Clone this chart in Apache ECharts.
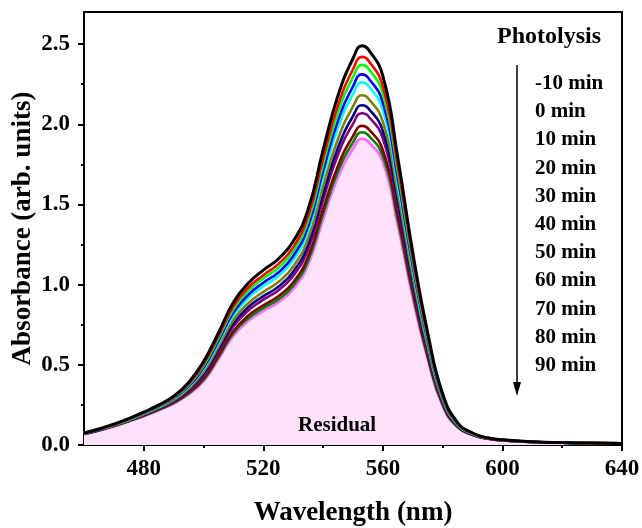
<!DOCTYPE html>
<html>
<head>
<meta charset="utf-8">
<script src="https://cdn.jsdelivr.net/npm/echarts@6/dist/echarts.min.js"></script>
<style>
  html, body { margin: 0; padding: 0; background: #fff; }
  #chart { width: 642px; height: 528px; }
</style>
</head>
<body>
<div id="chart"></div>
<script>
// wavelength grid (nm)
var wavelengths = [460, 465, 470, 475, 480, 485, 490, 495, 500, 505, 510, 515, 520, 525, 530, 535,
  540, 545, 550, 553, 555, 560, 565, 570, 575, 580, 585, 590, 595, 600, 610, 620, 630, 640];

// absorbance, one array per photolysis time
var absM10 = [0.075, 0.100, 0.130, 0.165, 0.205, 0.250, 0.305, 0.390, 0.520, 0.700, 0.890, 1.010, 1.090, 1.160, 1.270, 1.470,
  1.840, 2.180, 2.410, 2.490, 2.470, 2.300, 1.790, 1.200, 0.700, 0.320, 0.140, 0.075, 0.045, 0.032, 0.020, 0.015, 0.012, 0.010];
var abs0 = [0.074, 0.099, 0.128, 0.163, 0.202, 0.246, 0.299, 0.381, 0.505, 0.680, 0.865, 0.982, 1.059, 1.128, 1.234, 1.429,
  1.788, 2.119, 2.343, 2.420, 2.401, 2.236, 1.740, 1.166, 0.680, 0.311, 0.136, 0.074, 0.044, 0.032, 0.020, 0.015, 0.012, 0.010];
var abs10 = [0.074, 0.098, 0.127, 0.161, 0.200, 0.243, 0.295, 0.375, 0.495, 0.666, 0.847, 0.962, 1.038, 1.104, 1.209, 1.399,
  1.752, 2.075, 2.294, 2.370, 2.351, 2.190, 1.704, 1.142, 0.666, 0.305, 0.134, 0.072, 0.044, 0.031, 0.020, 0.015, 0.012, 0.010];
var abs20 = [0.073, 0.097, 0.126, 0.160, 0.198, 0.240, 0.291, 0.368, 0.483, 0.650, 0.826, 0.937, 1.012, 1.076, 1.179, 1.364,
  1.708, 2.023, 2.236, 2.311, 2.292, 2.134, 1.661, 1.114, 0.650, 0.297, 0.131, 0.071, 0.043, 0.031, 0.020, 0.014, 0.012, 0.010];
var abs30 = [0.072, 0.096, 0.125, 0.158, 0.196, 0.237, 0.287, 0.361, 0.472, 0.636, 0.808, 0.917, 0.990, 1.053, 1.153, 1.335,
  1.671, 1.979, 2.188, 2.261, 2.243, 2.088, 1.625, 1.090, 0.636, 0.291, 0.128, 0.070, 0.043, 0.031, 0.019, 0.014, 0.012, 0.010];
var abs40 = [0.071, 0.095, 0.123, 0.156, 0.192, 0.233, 0.280, 0.351, 0.456, 0.613, 0.780, 0.885, 0.955, 1.016, 1.113, 1.288,
  1.612, 1.910, 2.111, 2.181, 2.164, 2.015, 1.568, 1.051, 0.613, 0.280, 0.124, 0.068, 0.042, 0.030, 0.019, 0.014, 0.012, 0.010];
var abs50 = [0.071, 0.094, 0.122, 0.154, 0.190, 0.230, 0.275, 0.343, 0.443, 0.596, 0.757, 0.860, 0.928, 0.987, 1.081, 1.251,
  1.566, 1.855, 2.051, 2.119, 2.102, 1.957, 1.523, 1.021, 0.596, 0.272, 0.121, 0.067, 0.042, 0.030, 0.019, 0.014, 0.011, 0.010];
var abs60 = [0.070, 0.093, 0.121, 0.152, 0.188, 0.227, 0.271, 0.337, 0.432, 0.582, 0.740, 0.839, 0.906, 0.964, 1.055, 1.222,
  1.529, 1.812, 2.003, 2.069, 2.053, 1.911, 1.487, 0.997, 0.582, 0.266, 0.119, 0.066, 0.041, 0.030, 0.019, 0.014, 0.011, 0.009];
var abs70 = [0.069, 0.092, 0.119, 0.150, 0.184, 0.222, 0.265, 0.327, 0.415, 0.559, 0.711, 0.807, 0.871, 0.927, 1.015, 1.175,
  1.470, 1.742, 1.926, 1.990, 1.974, 1.838, 1.430, 0.959, 0.559, 0.256, 0.115, 0.064, 0.040, 0.029, 0.019, 0.014, 0.011, 0.009];
var abs80 = [0.068, 0.091, 0.118, 0.149, 0.183, 0.220, 0.262, 0.322, 0.407, 0.548, 0.697, 0.791, 0.853, 0.908, 0.994, 1.151,
  1.441, 1.707, 1.887, 1.950, 1.934, 1.801, 1.402, 0.940, 0.548, 0.251, 0.113, 0.064, 0.040, 0.029, 0.019, 0.014, 0.011, 0.009];
var abs90 = [0.068, 0.091, 0.117, 0.148, 0.181, 0.218, 0.259, 0.317, 0.399, 0.537, 0.683, 0.775, 0.836, 0.890, 0.974, 1.127,
  1.411, 1.672, 1.848, 1.910, 1.894, 1.764, 1.373, 0.920, 0.537, 0.245, 0.111, 0.063, 0.040, 0.029, 0.019, 0.014, 0.011, 0.009];

var timeLabels = ['-10 min', '0 min', '10 min', '20 min', '30 min', '40 min', '50 min', '60 min', '70 min', '80 min', '90 min'];
var xTicks = [480, 520, 560, 600, 640];
var xMinorTicks = [500, 540, 580, 620];
var yTicks = [0, 0.5, 1.0, 1.5, 2.0, 2.5];
var yMinorTicks = [0.25, 0.75, 1.25, 1.75, 2.25];

var allAbs = [absM10, abs0, abs10, abs20, abs30, abs40, abs50, abs60, abs70, abs80, abs90];
var colors = ['#000000', '#ff0000', '#00ff00', '#0000ff', '#00ffff', '#808000',
  '#000080', '#800080', '#800000', '#008000', '#ff70ff'];

var font = 'Liberation Serif, Times New Roman, serif';

var chart = echarts.init(document.getElementById('chart'));

var series = allAbs.map(function (arr, i) {
  var s = {
    name: timeLabels[i],
    type: 'line',
    smooth: true,
    symbol: 'none',
    z: 20 - i,
    data: arr.map(function (v, k) { return [wavelengths[k], v]; }),
    lineStyle: { color: colors[i], width: i === 0 ? 3 : 2.6 }
  };
  if (i === allAbs.length - 1) {
    s.areaStyle = { color: '#ffe2fc', opacity: 1 };
    s.lineStyle.width = 3;
    s.z = 5;
  }
  return s;
});

var graphics = [
  {
    type: 'text', left: 497, top: 25, z: 100,
    style: { text: 'Photolysis', font: 'bold 24px ' + font, fill: '#000' }
  },
  {
    type: 'line', z: 100, shape: { x1: 517, y1: 65, x2: 517, y2: 384 },
    style: { stroke: '#000', lineWidth: 1.5 }
  },
  {
    type: 'polygon', z: 100, shape: { points: [[513, 382], [521, 382], [517, 396]] },
    style: { fill: '#000' }
  },
  {
    type: 'text', left: 298, top: 415, z: 100,
    style: { text: 'Residual', font: 'bold 21px ' + font, fill: '#000' }
  }
];
timeLabels.forEach(function (t, i) {
  graphics.push({
    type: 'text', left: 535, top: 73 + i * 28.2, z: 100,
    style: { text: t, font: 'bold 21px ' + font, fill: '#000' }
  });
});

chart.setOption({
  animation: false,
  grid: {
    left: 84, right: 20, top: 12, bottom: 83,
    outerBoundsMode: 'none',
    show: true, borderColor: '#000', borderWidth: 2
  },
  xAxis: [
    {
      type: 'value', min: 460, max: 640,
      name: 'Wavelength (nm)', nameLocation: 'middle', nameGap: 55, nameMoveOverlap: false,
      nameTextStyle: { fontFamily: font, fontWeight: 'bold', fontSize: 27, color: '#000' },
      axisLine: { show: true, lineStyle: { color: '#000', width: 2 } },
      axisTick: { show: true, length: 6, lineStyle: { width: 2, color: '#000' }, customValues: xTicks },
      axisLabel: { customValues: xTicks, fontFamily: font, fontWeight: 'bold', fontSize: 23, color: '#000', margin: 13 },
      splitLine: { show: false }
    },
    {
      type: 'value', min: 460, max: 640, position: 'bottom',
      axisLine: { show: false },
      axisTick: { show: true, length: 3, lineStyle: { width: 2, color: '#000' }, customValues: xMinorTicks },
      axisLabel: { show: false },
      splitLine: { show: false }
    }
  ],
  yAxis: [
    {
      type: 'value', min: 0, max: 2.7,
      name: 'Absorbance (arb. units)', nameLocation: 'middle', nameGap: 47, nameMoveOverlap: false,
      nameTextStyle: { fontFamily: font, fontWeight: 'bold', fontSize: 27, color: '#000' },
      axisLine: { show: true, lineStyle: { color: '#000', width: 2 } },
      axisTick: { show: true, length: 6, lineStyle: { width: 2, color: '#000' }, customValues: yTicks },
      axisLabel: {
        customValues: yTicks, fontFamily: font, fontWeight: 'bold', fontSize: 23, color: '#000', margin: 14,
        formatter: function (v) { return v.toFixed(1); }
      },
      splitLine: { show: false }
    },
    {
      type: 'value', min: 0, max: 2.7, position: 'left',
      axisLine: { show: false },
      axisTick: { show: true, length: 3, lineStyle: { width: 2, color: '#000' }, customValues: yMinorTicks },
      axisLabel: { show: false },
      splitLine: { show: false }
    }
  ],
  series: series,
  graphic: graphics
});
</script>
</body>
</html>
